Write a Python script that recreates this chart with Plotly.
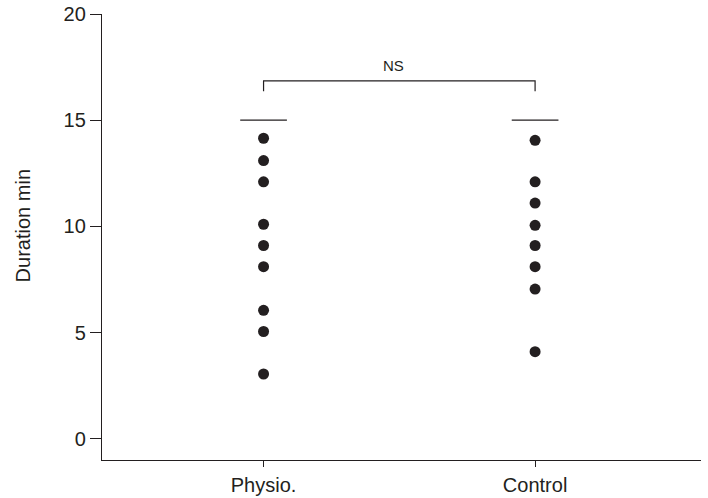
import plotly.graph_objects as go

categories = ["Physio.", "Control"]
physio_values = [14.15, 13.1, 12.1, 10.1, 9.1, 8.1, 6.05, 5.05, 3.05]
control_values = [14.05, 12.1, 11.1, 10.05, 9.1, 8.1, 7.05, 4.1]
median_lines = [15, 15]
bracket_y = 16.85
bracket_drop = 16.36
ns_label = "NS"
y_ticks = [0, 5, 10, 15, 20]
y_title = "Duration min"

ink = "#231f20"
font_family = "Liberation Sans, Arial, sans-serif"
xpos = [1, 2]

fig = go.Figure()
for i, vals in enumerate([physio_values, control_values]):
    fig.add_trace(go.Scatter(
        x=[xpos[i]] * len(vals), y=vals, mode="markers",
        marker=dict(size=11, color=ink, line=dict(width=0)),
        showlegend=False, hoverinfo="skip"))

# median/limit lines
half = 0.086
for i, m in enumerate(median_lines):
    fig.add_shape(type="line", xref="x", yref="y",
                  x0=xpos[i] - half, x1=xpos[i] + half, y0=m, y1=m,
                  line=dict(color=ink, width=1.3))

# bracket
fig.add_shape(type="path", xref="x", yref="y",
              path=f"M {xpos[0]},{bracket_drop} L {xpos[0]},{bracket_y} L {xpos[1]},{bracket_y} L {xpos[1]},{bracket_drop}",
              line=dict(color=ink, width=1.2))
fig.add_annotation(x=1.48, y=bracket_y, xref="x", yref="y", text=ns_label,
                   showarrow=False, yanchor="bottom", yshift=5,
                   font=dict(size=15, color=ink, family=font_family))

fig.add_annotation(x=0, y=10, xref="paper", yref="y", text=y_title,
                   textangle=-90, showarrow=False, xanchor="center", yanchor="middle",
                   xshift=-79, font=dict(size=20, color=ink, family=font_family))

fig.update_layout(
    width=708, height=498,
    margin=dict(l=102, r=7, t=14, b=38),
    paper_bgcolor="white", plot_bgcolor="white",
    font=dict(family=font_family, size=20, color=ink),
    xaxis=dict(range=[0.405, 2.611], tickvals=xpos, ticktext=categories,
               showgrid=False, zeroline=False, showline=True, linecolor=ink, linewidth=1.3,
               ticks="outside", ticklen=6, tickcolor=ink, tickwidth=1.2,
               ticklabelstandoff=1, automargin=False,
               tickfont=dict(size=20, color=ink)),
    yaxis=dict(range=[-1, 20], tickvals=y_ticks,
               showgrid=False, zeroline=False, showline=True, linecolor=ink, linewidth=1.3,
               ticks="outside", ticklen=11, tickcolor=ink, tickwidth=1.2,
               automargin=False,
               tickfont=dict(size=20, color=ink)),
)

fig.write_html("out.html", config={"displayModeBar": False},
               post_script="document.body.style.margin='0';document.body.style.overflow='hidden';")
